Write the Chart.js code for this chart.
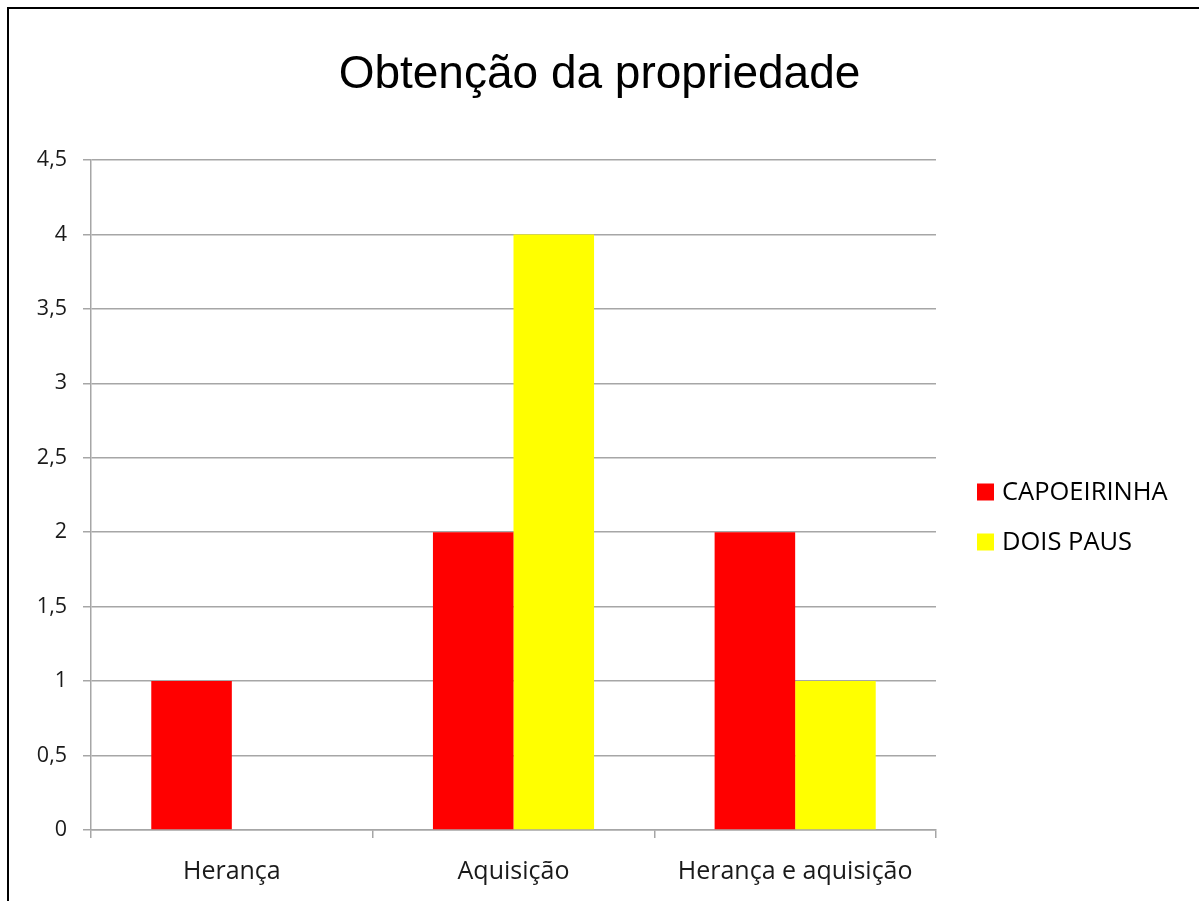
<!DOCTYPE html>
<html>
<head>
<meta charset="utf-8">
<script src="https://cdn.jsdelivr.net/npm/chart.js@4/dist/chart.umd.min.js"></script>
<style>
  html, body { margin: 0; padding: 0; background: #fff; }
  body { width: 1199px; height: 901px; position: relative; overflow: hidden; }
  #frame { position: absolute; left: 7px; top: 7px; width: 1300px; height: 1000px;
           border-left: 2px solid #000; border-top: 2px solid #000; box-sizing: border-box; }
  #wrap { position: absolute; left: 0; top: 0; width: 1199px; height: 901px; }
</style>
</head>
<body>
<div id="frame"></div>
<div id="wrap"><canvas id="c" width="1199" height="901"></canvas></div>
<script>
const chartTitle = "Obtenção da propriedade";
const categories = ["Herança", "Aquisição", "Herança e aquisição"];
const seriesNames = ["CAPOEIRINHA", "DOIS PAUS"];
const capoeirinha = [1, 2, 2];
const doisPaus = [0, 4, 1];
const seriesColors = ["#FF0000", "#FFFF00"];
const yMin = 0, yMax = 4.5, yStep = 0.5;

const legendPlugin = {
  id: 'customLegend',
  afterDraw(chart) {
    const ctx = chart.ctx;
    ctx.save();
    ctx.font = '25.5px "Open Sans"';
    ctx.textBaseline = 'middle';
    ctx.textAlign = 'left';
    chart.data.datasets.forEach((ds, i) => {
      const y = 492 + i * 50;
      ctx.fillStyle = ds.backgroundColor;
      ctx.fillRect(977, y - 8.5, 17, 17);
      ctx.fillStyle = '#000';
      ctx.fillText(ds.label, 1002, y + 1);
    });
    ctx.restore();
  }
};

new Chart(document.getElementById('c'), {
  type: 'bar',
  data: {
    labels: categories,
    datasets: [
      { label: seriesNames[0], data: capoeirinha, backgroundColor: seriesColors[0] },
      { label: seriesNames[1], data: doisPaus, backgroundColor: seriesColors[1] }
    ]
  },
  options: {
    responsive: false,
    animation: false,
    devicePixelRatio: 1,
    layout: { padding: 0 },
    datasets: { bar: { categoryPercentage: 0.572, barPercentage: 1.0, borderWidth: 0 } },
    plugins: {
      legend: { display: false },
      tooltip: { enabled: false },
      title: {
        display: true,
        text: chartTitle,
        color: '#000',
        font: { family: '"Liberation Sans", Arial', size: 46, weight: 'normal', lineHeight: 1.2 },
        padding: { top: 48, bottom: 56.8 }
      }
    },
    scales: {
      x: {
        grid: { display: true, drawOnChartArea: false, drawTicks: true, tickLength: 8, color: '#A6A6A6', lineWidth: 1.5, offset: true },
        border: { display: true, color: '#A6A6A6', width: 1.5 },
        ticks: { color: '#1a1a1a', font: { family: '"Open Sans"', size: 25 }, padding: 19, maxRotation: 0 },
        afterFit(s) { s.height = 71; }
      },
      y: {
        min: yMin, max: yMax,
        grid: { color: '#A6A6A6', lineWidth: 1.5, tickLength: 8 },
        border: { display: true, color: '#A6A6A6', width: 1.5 },
        ticks: {
          stepSize: yStep,
          color: '#1a1a1a',
          font: { family: '"Open Sans"', size: 21.5 },
          padding: 16,
          callback: (v) => String(v).replace('.', ',')
        },
        afterFit(s) { s.width = 91; }
      },
      legendSpace: {
        type: 'linear',
        position: 'right',
        display: true,
        grid: { display: false },
        border: { display: false },
        ticks: { display: false },
        afterFit(s) { s.width = 263; }
      }
    }
  },
  plugins: [legendPlugin]
});
</script>
</body>
</html>
